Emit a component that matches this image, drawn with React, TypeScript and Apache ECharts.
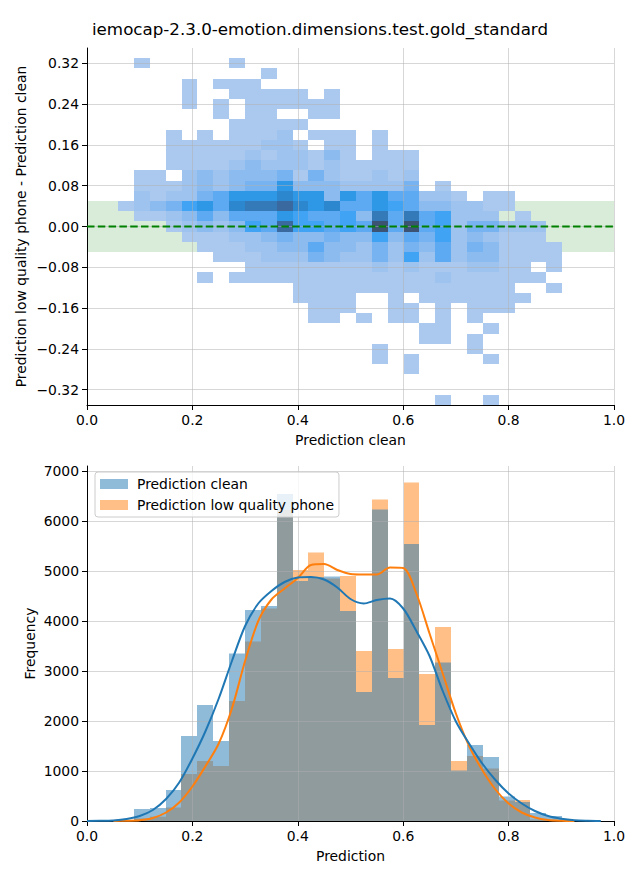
import React, { useEffect, useRef } from 'react';
import * as echarts from 'echarts';

const TITLE = 'iemocap-2.3.0-emotion.dimensions.test.gold_standard';
const FONT = 'DejaVu Sans';

// ---- Top panel: 2D histogram (x = Prediction clean, y = low quality phone - clean)
const HEAT_X_START = 0.059; // left edge of first x bin
const HEAT_X_WIDTH = 0.0301; // x bin width
const HEAT_Y_HEIGHT = 0.02; // y bin height
const HEAT_ROW_CENTERS = [
  0.32, 0.3, 0.28, 0.26, 0.24, 0.22, 0.2, 0.18, 0.16, 0.14, 0.12, 0.1, 0.08, 0.06, 0.04, 0.02, 0.0,
  -0.02, -0.04, -0.06, -0.08, -0.1, -0.12, -0.14, -0.16, -0.18, -0.2, -0.22, -0.24, -0.26, -0.28, -0.3, -0.32, -0.34,
];
// density level per cell (0 = empty, 1..b = light..dark), one char per x bin
const HEAT_ROWS = [
  '0100000100000000000000000000',
  '0000000001000000000000000000',
  '0000101110000000000000000000',
  '0000100111110100000000000000',
  '0000101011111100000000000000',
  '0000001011001100000000000000',
  '0000000111110000000000000000',
  '0001010111201110100000000000',
  '0001111112210110100000000000',
  '0001111121221310111000000000',
  '0001111232221211111000000000',
  '0110232333414211212000000000',
  '0111232344733322224010000000',
  '0212245777877375755221011000',
  '1234675899a87855765332211000',
  '0112353555765563959562220100',
  '0001232365a66565b5b562442220',
  '0000111223433433635462321110',
  '0000011122335332424352431111',
  '0000001112224322426252331111',
  '0000000011111111212111221101',
  '0000010111111111111121111110',
  '0000000000011111111111111001',
  '0000000000011110010111111100',
  '0000000000001110011010111000',
  '0000000000001101011010100000',
  '0000000000000000000110010000',
  '0000000000000000000110100000',
  '0000000000000000100000100000',
  '0000000000000000101000010000',
  '0000000000000000001000000000',
  '0000000000000000000000000000',
  '0000000000000000000000000000',
  '0000000000000000000010010000',
];
const HEAT_COLORS = [
  '#abc9ee', '#9fc3ef', '#8cbbef', '#77b3f0', '#5eaaf2', '#40a3f4',
  '#2e97e6', '#2c87cf', '#3479b8', '#3a69a0', '#3c5374',
];
const TOLERANCE_BAND = [-0.05, 0.05];
const ZERO_LINE = [[0, 0], [1, 0]];

// ---- Bottom panel: histograms + KDE
const HIST_START = 0.089;
const HIST_WIDTH = 0.0301;
const CLEAN_COUNTS = [240, 260, 620, 1700, 2320, 1600, 3350, 4220, 4300, 6540, 4800, 4880, 4890, 4200, 2580, 6230, 2860, 5540, 1920, 3170, 1010, 1520, 1280, 490, 380, 160, 100];
const PHONE_COUNTS = [50, 86, 270, 940, 1200, 1100, 2400, 3590, 4250, 6220, 5020, 5370, 4850, 4900, 3400, 6430, 3440, 6770, 2940, 3880, 1200, 1300, 1050, 410, 420, 30, 10];
const KDE_X = [0, 0.025, 0.05, 0.075, 0.1, 0.125, 0.15, 0.175, 0.2, 0.225, 0.25, 0.275, 0.3, 0.325, 0.35, 0.375, 0.4, 0.425, 0.45, 0.475, 0.5, 0.525, 0.55, 0.575, 0.6, 0.625, 0.65, 0.675, 0.7, 0.725, 0.75, 0.775, 0.8, 0.825, 0.85, 0.875, 0.9, 0.925, 0.95, 0.975, 1.0];
const KDE_CLEAN = [0, 3, 12, 40, 100, 220, 440, 770, 1250, 1800, 2450, 3200, 3900, 4350, 4600, 4780, 4870, 4880, 4830, 4670, 4440, 4350, 4420, 4450, 4250, 3800, 3300, 2600, 1990, 1550, 1150, 820, 550, 350, 200, 100, 45, 15, 5, 1, null];
const KDE_PHONE = [null, null, 0, 5, 15, 60, 170, 370, 690, 1100, 1550, 2250, 3200, 4000, 4430, 4650, 4860, 5120, 5140, 5020, 4940, 4930, 4930, 5070, 5060, 4550, 3750, 2950, 2150, 1500, 1020, 630, 350, 170, 70, 20, 5, 0, null, null, null];

const LABEL_CLEAN = 'Prediction clean';
const LABEL_PHONE = 'Prediction low quality phone';

const fmtSigned = (v: number, d: number) => {
  const s = Math.abs(v) < 1e-9 ? (0).toFixed(d) : v.toFixed(d);
  return s.replace('-', '\u2212');
};

function buildOption() {
  const heatData: number[][] = [];
  HEAT_ROWS.forEach((row, r) => {
    for (let i = 0; i < row.length; i++) {
      const lvl = parseInt(row[i], 16);
      if (lvl > 0) heatData.push([HEAT_X_START + i * HEAT_X_WIDTH, HEAT_ROW_CENTERS[r] - HEAT_Y_HEIGHT / 2, lvl]);
    }
  });
  const cleanData = CLEAN_COUNTS.map((c, k) => [HIST_START + k * HIST_WIDTH, c]);
  const phoneData = PHONE_COUNTS.map((c, k) => [HIST_START + k * HIST_WIDTH, c]);
  const kdeClean = KDE_X.map((x, k) => [x, KDE_CLEAN[k]]).filter((p) => p[1] != null);
  const kdePhone = KDE_X.map((x, k) => [x, KDE_PHONE[k]]).filter((p) => p[1] != null);

  const txt = { fontFamily: FONT, fontSize: 13.9, color: '#000' };
  const black = { show: true, onZero: false, lineStyle: { color: '#000', width: 1 } };
  const grid = { show: true, lineStyle: { color: 'rgba(176,176,176,0.5)', width: 1 } };

  const heatRender = (_p: any, api: any) => {
    const x = api.value(0);
    const y = api.value(1);
    const lvl = api.value(2);
    const a = api.coord([x, y + HEAT_Y_HEIGHT]);
    const b = api.coord([x + HEAT_X_WIDTH, y]);
    const x0 = Math.round(a[0]);
    const y0 = Math.round(a[1]);
    return {
      type: 'rect',
      shape: { x: x0, y: y0, width: Math.round(b[0]) - x0, height: Math.round(b[1]) - y0 },
      style: { fill: HEAT_COLORS[lvl - 1] },
    };
  };
  const barRender = (color: string) => (_p: any, api: any) => {
    const x = api.value(0);
    const c = api.value(1);
    const a = api.coord([x, c]);
    const b = api.coord([x + HIST_WIDTH, 0]);
    const x0 = Math.round(a[0]);
    return {
      type: 'rect',
      shape: { x: x0, y: a[1], width: Math.round(b[0]) - x0, height: b[1] - a[1] },
      style: { fill: color },
    };
  };

  const blueA = 'rgba(31,119,180,0.5)';
  const orangeA = 'rgba(255,127,14,0.5)';

  return {
    animation: false,
    backgroundColor: '#fff',
    title: {
      text: TITLE,
      left: 'center',
      top: 15,
      textStyle: { fontFamily: FONT, fontSize: 16.7, fontWeight: 'normal', color: '#000' },
    },
    legend: {
      data: [LABEL_CLEAN, LABEL_PHONE],
      orient: 'vertical',
      left: 95,
      top: 472,
      icon: 'rect',
      itemWidth: 28,
      itemHeight: 10,
      itemGap: 7,
      padding: [5, 5, 5, 5],
      backgroundColor: 'rgba(255,255,255,0.8)',
      borderColor: '#cccccc',
      borderWidth: 1,
      borderRadius: 3,
      selectedMode: false,
      textStyle: { ...txt, lineHeight: 14, padding: [0, 0, 0, 4] },
      z: 20,
    },
    grid: [
      { left: 87, top: 48, width: 527, height: 357, outerBoundsMode: 'none' },
      { left: 87, top: 63.3, width: 527, height: 326.4, outerBoundsMode: 'none' },
      { left: 87, top: 466, width: 527, height: 355, outerBoundsMode: 'none' },
      { left: 87, top: 471, width: 527, height: 350, outerBoundsMode: 'none' },
    ],
    xAxis: [
      {
        gridIndex: 0, type: 'value', min: 0, max: 1, interval: 0.2, z: 6,
        axisLine: black, axisTick: { show: true, length: 5, lineStyle: { color: '#000' } },
        axisLabel: { ...txt, margin: 8, formatter: (v: number) => v.toFixed(1) },
        splitLine: { ...grid, showMinLine: false },
        name: 'Prediction clean', nameLocation: 'middle', nameGap: 28, nameTextStyle: txt,
      },
      { gridIndex: 1, type: 'value', min: 0, max: 1, show: false },
      {
        gridIndex: 2, type: 'value', min: 0, max: 1, interval: 0.2, z: 6,
        axisLine: black, axisTick: { show: true, length: 5, lineStyle: { color: '#000' } },
        axisLabel: { ...txt, margin: 8, formatter: (v: number) => v.toFixed(1) },
        splitLine: { ...grid, showMinLine: false },
        name: 'Prediction', nameLocation: 'middle', nameGap: 28, nameTextStyle: txt,
      },
      { gridIndex: 3, type: 'value', min: 0, max: 1, show: false },
    ],
    yAxis: [
      {
        gridIndex: 0, type: 'value', min: -0.35, max: 0.35, z: 8,
        axisLine: black, axisTick: { show: false }, axisLabel: { show: false }, splitLine: { show: false },
        name: 'Prediction low quality phone - Prediction clean', nameLocation: 'middle', nameGap: 59,
        nameRotate: 90, nameTextStyle: txt,
      },
      {
        gridIndex: 1, type: 'value', min: -0.32, max: 0.32, interval: 0.08, z: 6,
        axisLine: black, axisTick: { show: true, length: 5, lineStyle: { color: '#000' } },
        axisLabel: { ...txt, margin: 8, formatter: (v: number) => fmtSigned(v, 2) },
        splitLine: grid,
      },
      {
        gridIndex: 2, type: 'value', min: 0, max: 7100, z: 8,
        axisLine: black, axisTick: { show: false }, axisLabel: { show: false }, splitLine: { show: false },
        name: 'Frequency', nameLocation: 'middle', nameGap: 50, nameRotate: 90, nameTextStyle: txt,
      },
      {
        gridIndex: 3, type: 'value', min: 0, max: 7000, interval: 1000, z: 6,
        axisLine: black, axisTick: { show: true, length: 5, lineStyle: { color: '#000' } },
        axisLabel: { ...txt, margin: 8, formatter: (v: number) => String(Math.round(v)) },
        splitLine: { ...grid, showMinLine: false },
      },
    ],
    series: [
      {
        name: 'band', type: 'line', xAxisIndex: 0, yAxisIndex: 0, data: ZERO_LINE, z: 1,
        symbol: 'none', silent: true, lineStyle: { opacity: 0 },
        markArea: {
          silent: true,
          itemStyle: { color: 'rgba(0,128,0,0.15)' },
          data: [[{ yAxis: TOLERANCE_BAND[0] }, { yAxis: TOLERANCE_BAND[1] }]],
        },
      },
      {
        name: 'heat', type: 'custom', xAxisIndex: 0, yAxisIndex: 0, data: heatData, z: 2,
        renderItem: heatRender, silent: true,
      },
      {
        name: 'zero', type: 'line', xAxisIndex: 0, yAxisIndex: 0, data: ZERO_LINE, z: 9,
        symbol: 'none', silent: true,
        lineStyle: { color: '#008000', width: 2, type: [7.5, 3.3] },
      },
      {
        name: LABEL_PHONE, type: 'custom', xAxisIndex: 2, yAxisIndex: 2, data: phoneData, z: 2,
        itemStyle: { color: orangeA }, renderItem: barRender(orangeA), silent: true,
      },
      {
        name: LABEL_CLEAN, type: 'custom', xAxisIndex: 2, yAxisIndex: 2, data: cleanData, z: 3,
        itemStyle: { color: blueA }, renderItem: barRender(blueA), silent: true,
      },
      {
        name: 'kde phone', type: 'line', xAxisIndex: 2, yAxisIndex: 2, data: kdePhone, z: 10,
        smooth: 0.3, symbol: 'none', silent: true, lineStyle: { color: '#ff7f0e', width: 2 },
      },
      {
        name: 'kde clean', type: 'line', xAxisIndex: 2, yAxisIndex: 2, data: kdeClean, z: 11,
        smooth: 0.3, symbol: 'none', silent: true, lineStyle: { color: '#1f77b4', width: 2 },
      },
    ],
  };
}

export default function App() {
  const ref = useRef<HTMLDivElement>(null);
  useEffect(() => {
    document.body.style.margin = '0';
    const chart = echarts.init(ref.current as HTMLDivElement, null, { renderer: 'svg' });
    chart.setOption(buildOption() as any);
    return () => chart.dispose();
  }, []);
  return <div ref={ref} style={{ width: 640, height: 880 }} />;
}
